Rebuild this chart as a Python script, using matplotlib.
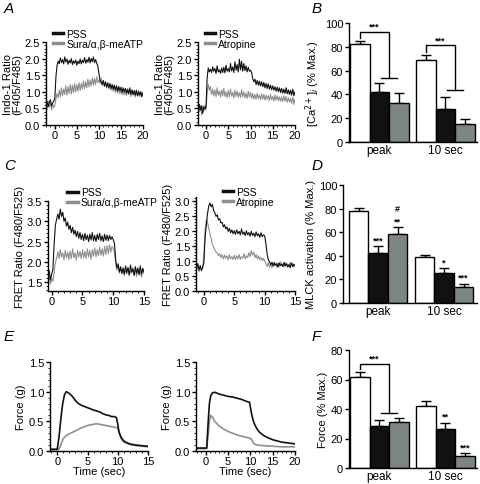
import numpy as np
import matplotlib
matplotlib.use('Agg')
import matplotlib.pyplot as plt
from matplotlib.ticker import MultipleLocator, FormatStrFormatter

plt.rcParams['font.family'] = ['Liberation Sans', 'DejaVu Sans']
plt.rcParams['font.size'] = 8
plt.rcParams['axes.linewidth'] = 1.0

BLACK = '#111111'
GRAY_LINE = '#8e9090'
GRAY_BAR = '#7c8686'

# ---------------- dados: traços Indo-1 (A), 0.25 s entre amostras, -2 a 20 s
indo_pss_sura = [0.62, 0.71, 0.55, 0.68, 0.76, 0.58, 0.66, 0.72,
                 0.80, 1.45, 1.78, 1.92,
                 1.85, 2.02, 1.88, 1.97, 1.84, 2.05, 1.90, 1.98, 1.83, 1.95, 1.87, 2.00,
                 1.82, 1.93, 1.86, 1.96, 1.80, 1.92, 1.85, 1.99, 1.84, 1.95, 1.88, 2.03,
                 1.86, 1.97, 1.89, 2.04, 1.87, 2.00, 1.91, 2.05, 1.88, 1.97, 1.86, 1.78,
                 1.55, 1.35, 1.30, 1.22, 1.34, 1.18, 1.30, 1.15, 1.27, 1.13, 1.25, 1.10,
                 1.22, 1.08, 1.20, 1.06, 1.18, 1.02, 1.16, 1.04, 1.14, 0.98, 1.12, 1.00,
                 1.10, 0.96, 1.08, 0.95, 1.12, 0.93, 1.06, 0.92, 1.04, 0.90, 1.05, 0.88,
                 1.02, 0.90, 1.00, 0.86, 0.98]
indo_sura = [0.58, 0.48, 0.72, 0.55, 0.66, 0.45, 0.62, 0.52,
             0.60, 0.78, 0.95, 0.82,
             1.05, 0.85, 1.12, 0.88, 1.08, 0.92, 1.18, 0.90, 1.15, 0.95, 1.22, 0.93,
             1.20, 0.98, 1.25, 1.00, 1.22, 1.02, 1.28, 1.04, 1.25, 1.08, 1.32, 1.10,
             1.30, 1.12, 1.38, 1.15, 1.35, 1.18, 1.42, 1.20, 1.40, 1.22, 1.45, 1.28,
             1.35, 1.25, 1.42, 1.20, 1.32, 1.15, 1.28, 1.12, 1.25, 1.08, 1.22, 1.05,
             1.18, 1.02, 1.15, 0.98, 1.14, 0.96, 1.10, 0.94, 1.08, 0.92, 1.05, 0.90,
             1.06, 0.88, 1.04, 0.92, 1.02, 0.86, 1.00, 0.90, 0.98, 0.84, 1.02, 0.88,
             0.96, 0.85, 1.00, 0.84, 0.92]
indo_pss_atro = [0.52, 0.38, 0.62, 0.45, 0.58, 0.35, 0.55, 0.48,
                 0.55, 1.40, 1.72, 1.60,
                 1.68, 1.58, 1.75, 1.62, 1.70, 1.55, 1.78, 1.60, 1.66, 1.56, 1.72, 1.58,
                 1.74, 1.57, 1.80, 1.62, 1.70, 1.60, 1.85, 1.63, 1.75, 1.58, 1.90, 1.65,
                 1.82, 1.60, 1.98, 1.66, 1.92, 1.62, 1.85, 1.64, 1.78, 1.60, 1.74, 1.62,
                 1.65, 1.58, 1.40, 1.30, 1.38, 1.22, 1.34, 1.20, 1.32, 1.18, 1.30, 1.15,
                 1.28, 1.12, 1.25, 1.10, 1.24, 1.08, 1.20, 1.06, 1.18, 1.05, 1.15, 1.02,
                 1.14, 1.00, 1.12, 0.98, 1.10, 0.96, 1.08, 0.95, 1.12, 0.94, 1.06, 0.92,
                 1.05, 0.90, 1.08, 0.88, 1.00]
indo_atro = [0.48, 0.62, 0.40, 0.58, 0.30, 0.55, 0.42, 0.60,
             0.45, 0.95, 1.22, 1.05,
             1.15, 0.92, 1.08, 0.88, 1.05, 0.85, 1.12, 0.90, 1.02, 0.84, 1.06, 0.88,
             1.10, 0.86, 1.00, 0.82, 1.04, 0.85, 1.08, 0.87, 0.98, 0.82, 1.05, 0.86,
             1.02, 0.84, 0.98, 0.83, 1.06, 0.85, 1.00, 0.82, 0.96, 0.80, 1.02, 0.84,
             0.98, 0.80, 0.95, 0.78, 0.92, 0.78, 0.95, 0.80, 0.90, 0.76, 0.94, 0.78,
             0.92, 0.75, 0.90, 0.78, 0.88, 0.74, 0.92, 0.76, 0.86, 0.72, 0.90, 0.75,
             0.88, 0.73, 0.85, 0.72, 0.84, 0.70, 0.88, 0.72, 0.86, 0.68, 0.82, 0.70,
             0.80, 0.65, 0.84, 0.62, 0.78]

# ---------------- dados: traços FRET (C), 0.2 s entre amostras
fret_pss_sura = [1.62, 1.78, 1.55,
                 1.70, 1.82, 2.45, 2.90, 3.05,
                 3.18, 3.05, 3.30, 3.12, 3.22, 3.00, 3.08, 2.88, 2.98, 2.80,
                 2.90, 2.72, 2.85, 2.68, 2.78, 2.62, 2.75, 2.58, 2.72, 2.55,
                 2.68, 2.52, 2.70, 2.55, 2.66, 2.50, 2.68, 2.54, 2.72, 2.52,
                 2.65, 2.50, 2.68, 2.55, 2.70, 2.52, 2.64, 2.50, 2.68, 2.53,
                 2.66, 2.52, 2.65, 2.55, 2.62,
                 2.55, 2.45, 2.05, 1.85, 1.95, 1.75, 1.88, 1.72, 1.85, 1.70, 1.90, 1.74,
                 1.86, 1.68, 1.92, 1.75, 1.82, 1.66, 1.88, 1.72, 1.85, 1.68, 1.90, 1.70,
                 1.84, 1.75]
fret_sura = [1.50, 1.66, 1.45,
             1.58, 1.52, 1.75, 1.98, 2.10,
             2.25, 2.08, 2.30, 2.12, 2.22, 2.05, 2.28, 2.10, 2.24, 2.06,
             2.26, 2.08, 2.32, 2.10, 2.22, 2.04, 2.28, 2.12, 2.25, 2.08,
             2.30, 2.10, 2.26, 2.08, 2.32, 2.12, 2.28, 2.06, 2.30, 2.14,
             2.34, 2.12, 2.30, 2.15, 2.36, 2.16, 2.32, 2.14, 2.38, 2.18,
             2.40, 2.20, 2.42, 2.24, 2.38,
             2.32, 2.25, 1.95, 1.80, 1.88, 1.72, 1.85, 1.70, 1.82, 1.66, 1.80, 1.70,
             1.84, 1.65, 1.78, 1.72, 1.86, 1.68, 1.80, 1.64, 1.82, 1.70, 1.76, 1.62,
             1.80, 1.72]
fret_pss_atro = [0.78, 0.92, 0.70, 0.85, 0.68, 0.80,
                 0.95, 1.80, 2.20, 2.60, 2.85,
                 2.95, 2.82, 2.90, 2.70, 2.62, 2.50, 2.55, 2.38, 2.42, 2.28,
                 2.30, 2.15, 2.22, 2.08, 2.15, 2.00, 2.10, 1.95, 2.05, 1.92,
                 2.02, 1.90, 2.05, 1.92, 2.00, 1.88, 2.08, 1.90, 1.98, 1.86,
                 2.02, 1.88, 1.96, 1.84, 2.00, 1.86, 1.94, 1.82, 1.98, 1.85,
                 1.92, 1.80, 1.95, 1.82, 1.88,
                 1.85, 1.60, 1.25, 1.05, 0.98, 0.88, 0.96, 0.84, 0.95, 0.86, 0.92, 0.80,
                 0.94, 0.85, 0.90, 0.82, 0.96, 0.84, 0.92, 0.80, 0.88, 0.78, 0.94, 0.82,
                 0.90, 0.85]
fret_atro = [0.72, 0.88, 0.65, 0.82, 0.70, 0.78,
             1.20, 2.05, 2.40, 2.30, 2.10,
             1.92, 1.75, 1.55, 1.48, 1.38, 1.30, 1.28, 1.18, 1.25, 1.12,
             1.22, 1.08, 1.20, 1.10, 1.18, 1.05, 1.22, 1.08, 1.15, 1.06,
             1.20, 1.05, 1.18, 1.08, 1.22, 1.06, 1.15, 1.10, 1.25, 1.08,
             1.18, 1.12, 1.28, 1.15, 1.35, 1.20, 1.30, 1.12, 1.22, 1.08,
             1.18, 1.05, 1.12, 1.02, 1.10,
             1.00, 0.92, 0.82, 0.95, 0.80, 0.92, 0.78, 0.96, 0.84, 0.90, 0.80, 0.94,
             0.82, 0.98, 0.85, 0.92, 0.80, 0.95, 0.84, 0.90, 0.82, 0.96, 0.85, 0.92,
             0.80, 0.88]

# ---------------- dados: força (E)
t_force_pss_sura = [-1.2, 0.0, 0.3, 0.6, 0.9, 1.2, 1.5, 2.0, 2.5, 3.0, 3.5, 4.0, 5.0, 6.0, 7.0,
                    7.5, 8.0, 8.5, 9.0, 9.5, 9.8, 10.0, 10.2, 10.5, 11.0, 11.5, 12.0, 13.0, 14.0, 15.0]
force_pss_sura = [0.03, 0.03, 0.25, 0.55, 0.80, 0.95, 1.00, 0.97, 0.92, 0.85, 0.80, 0.77, 0.73, 0.69, 0.66,
                  0.63, 0.61, 0.60, 0.58, 0.58, 0.56, 0.45, 0.32, 0.24, 0.17, 0.14, 0.12, 0.10, 0.09, 0.08]
t_force_sura = [-1.2, 0.2, 0.5, 0.8, 1.0, 1.5, 2.0, 3.0, 4.0, 5.0, 6.0, 6.5, 7.0, 8.0, 9.0, 10.0,
                10.3, 10.6, 11.0, 12.0, 13.0, 14.0, 15.0]
force_sura = [0.02, 0.02, 0.08, 0.16, 0.21, 0.26, 0.29, 0.34, 0.39, 0.43, 0.45, 0.46, 0.45, 0.43, 0.41, 0.39,
              0.30, 0.20, 0.15, 0.11, 0.09, 0.08, 0.07]
t_force_pss_atro = [-2.2, 0.2, 0.5, 0.8, 1.1, 1.5, 2.0, 3.0, 4.0, 5.0, 6.0, 7.0, 8.0, 9.0, 9.8, 10.2,
                    10.6, 11.0, 11.5, 12.0, 13.0, 14.0, 15.0, 16.0, 17.0, 18.0, 19.0, 20.0]
force_pss_atro = [0.05, 0.05, 0.45, 0.80, 0.93, 0.98, 0.99, 0.96, 0.94, 0.92, 0.91, 0.89, 0.87, 0.84, 0.82, 0.65,
                  0.52, 0.44, 0.37, 0.32, 0.26, 0.22, 0.19, 0.17, 0.15, 0.14, 0.13, 0.12]
t_force_atro = [-2.2, 0.2, 0.5, 0.8, 1.1, 1.4, 2.0, 3.0, 4.0, 5.0, 6.0, 7.0, 8.0, 9.0, 9.8, 10.3,
                10.8, 11.5, 13.0, 15.0, 17.0, 20.0]
force_atro = [0.04, 0.04, 0.25, 0.50, 0.60, 0.58, 0.50, 0.42, 0.37, 0.33, 0.30, 0.27, 0.25, 0.23, 0.22, 0.19,
              0.12, 0.10, 0.09, 0.08, 0.07, 0.07]

# ---------------- dados: barras (controle, Sura/meATP, atropina) para pico e 10 s
grupos = ['peak', '10 sec']
ca_media = [[82, 42, 33], [69, 28, 15]]
ca_erro = [[3, 8, 8.5], [4.5, 10, 4.5]]
mlck_media = [[78, 42, 58.5], [39.3, 25.3, 13.3]]
mlck_erro = [[2.5, 6, 6], [1.5, 4.2, 3]]
mlck_sig = [['', '***', '#\n**'], ['', '*', '***']]
forca_media = [[62, 28.8, 30.9], [42, 26.6, 8.3]]
forca_erro = [[3, 4, 3.3], [3.6, 3.8, 1.6]]
forca_sig = [['', '', ''], ['', '**', '***']]

fig = plt.figure(figsize=(4.8, 4.85), dpi=100)
W, H = 480.0, 485.0


def eixo(l, t, r, b):
    return fig.add_axes([l / W, 1 - b / H, (r - l) / W, (b - t) / H])


def estilo(ax):
    for s in ['top', 'right']:
        ax.spines[s].set_visible(False)
    ax.tick_params(which='major', direction='out', length=3, width=1, pad=1.2, labelsize=8)
    ax.tick_params(which='minor', direction='out', length=1.5, width=0.6)
    ax.tick_params(axis='x', which='major', pad=0.5)


def tracos(ax, t0, t1, preto, cinza, nomes, xlim, ylim, ystep, xticks, ylabel, leg_pos):
    tp = np.linspace(t0, t1, len(preto))
    tc = np.linspace(t0, t1, len(cinza))
    ax.plot(tc, cinza, color=GRAY_LINE, lw=0.8, label=nomes[1], zorder=2)
    ax.plot(tp, preto, color=BLACK, lw=0.8, label=nomes[0], zorder=3)
    ax.set_xlim(*xlim)
    ax.set_ylim(*ylim)
    ax.set_xticks(xticks)
    ax.yaxis.set_major_locator(MultipleLocator(ystep))
    ax.yaxis.set_major_formatter(FormatStrFormatter('%.1f'))
    ax.xaxis.set_minor_locator(MultipleLocator(1))
    ax.yaxis.set_minor_locator(MultipleLocator(0.1))
    ax.set_ylabel(ylabel, labelpad=1.5, linespacing=0.95, fontsize=8)
    estilo(ax)
    h, l = ax.get_legend_handles_labels()
    leg = ax.legend(h[::-1], l[::-1], loc='upper left', bbox_to_anchor=leg_pos, frameon=False,
                    handlelength=1.0, handletextpad=0.3, labelspacing=0.0, borderpad=0,
                    borderaxespad=0, fontsize=7.5)
    for ln in leg.get_lines():
        ln.set_linewidth(2.5)


# A
ax = eixo(46, 43, 143, 126)
tracos(ax, -2, 20, indo_pss_sura, indo_sura, ['PSS', 'Sura/α,β-meATP'],
       (-2, 20), (0, 2.5), 0.5, [0, 5, 10, 15, 20], 'Indo-1 Ratio\n(F405/F485)', (0.07, 1.16))
ax = eixo(198, 43, 295, 126)
tracos(ax, -2, 20, indo_pss_atro, indo_atro, ['PSS', 'Atropine'],
       (-1.8, 20), (0, 2.5), 0.5, [0, 5, 10, 15, 20], 'Indo-1 Ratio\n(F405/F485)', (0.07, 1.16))

# C
ax = eixo(48, 202, 144, 292)
tracos(ax, -0.6, 15, fret_pss_sura, fret_sura, ['PSS', 'Sura/α,β-meATP'],
       (-0.6, 15), (1.28, 3.5), 0.5, [0, 5, 10, 15], 'FRET Ratio (F480/F525)', (0.2, 1.15))
ax = eixo(196, 198, 295, 292)
tracos(ax, -1.2, 15, fret_pss_atro, fret_atro, ['PSS', 'Atropine'],
       (-1.3, 15), (0, 3.15), 0.5, [0, 5, 10, 15], 'FRET Ratio (F480/F525)', (0.27, 1.11))

# E
for (l, r, tp, fp, tc, fc, xl, xt) in [
        (50, 148, t_force_pss_sura, force_pss_sura, t_force_sura, force_sura, (-1.2, 15), [0, 5, 10, 15]),
        (196, 295, t_force_pss_atro, force_pss_atro, t_force_atro, force_atro, (-2.2, 20), [0, 5, 10, 15, 20])]:
    ax = eixo(l, 363, r, 452)
    ax.plot(tc, fc, color=GRAY_LINE, lw=1.2)
    ax.plot(tp, fp, color=BLACK, lw=1.2)
    ax.set_xlim(*xl)
    ax.set_ylim(0, 1.5)
    ax.set_xticks(xt)
    ax.yaxis.set_major_locator(MultipleLocator(0.5))
    ax.yaxis.set_major_formatter(FormatStrFormatter('%.1f'))
    ax.xaxis.set_minor_locator(MultipleLocator(1))
    ax.yaxis.set_minor_locator(MultipleLocator(0.1))
    ax.set_ylabel('Force (g)', labelpad=2)
    ax.set_xlabel('Time (sec)', labelpad=0)
    estilo(ax)

# barras
pos = [[0, 1, 2], [3.38, 4.38, 5.38]]
cores = ['white', BLACK, GRAY_BAR]


def barras(ax, media, erro, ymax, ystep, ylabel, xlim, sig=None, colchetes=()):
    for g in range(2):
        ax.bar(pos[g], media[g], width=1.0, color=cores, edgecolor='black', linewidth=1, zorder=2)
        ax.errorbar(pos[g], media[g], yerr=[[0, 0, 0], erro[g]], fmt='none', ecolor='black',
                    elinewidth=1, capsize=3.5, capthick=1, zorder=1)
        if sig:
            for i in range(3):
                if sig[g][i]:
                    ax.text(pos[g][i], media[g][i] + erro[g][i] + 1.5, sig[g][i], ha='center', va='bottom',
                            fontsize=6.5, fontweight='bold', linespacing=1.4)
    for (g, topo, baixo) in colchetes:
        x0 = pos[g][0]
        x1 = (pos[g][1] + pos[g][2]) / 2
        y0 = media[g][0] + erro[g][0] + 2
        ax.plot([x0, x0, x1, x1], [y0, topo, topo, baixo], color='black', lw=1)
        ax.plot([x1 - 0.42, x1 + 0.42], [baixo, baixo], color='black', lw=1)
        ax.text((x0 + x1) / 2, topo + 1, '***', ha='center', va='bottom', fontsize=6.5, fontweight='bold')
    ax.set_xlim(*xlim)
    ax.set_ylim(0, ymax)
    ax.yaxis.set_major_locator(MultipleLocator(ystep))
    ax.set_xticks([pos[0][1], pos[1][1]])
    ax.set_xticklabels(grupos)
    ax.set_ylabel(ylabel, labelpad=2)
    estilo(ax)
    ax.tick_params(axis='x', length=0, pad=1.5, labelsize=8.5)


ax = eixo(349, 24, 477, 143)
barras(ax, ca_media, ca_erro, 100, 20, r'[Ca$^{2+}$]$_i$ (% Max.)', (-0.55, 6.0),
       colchetes=[(0, 92.4, 53.8), (1, 81.1, 44)])
ax = eixo(343, 186, 477, 304)
barras(ax, mlck_media, mlck_erro, 100, 20, 'MLCK activation (% Max.)', (-0.8, 6.07), sig=mlck_sig)
ax = eixo(349, 351, 477, 469)
barras(ax, forca_media, forca_erro, 80, 20, 'Force (% Max.)', (-0.55, 6.0), sig=forca_sig,
       colchetes=[(0, 70.3, 37.2)])

# letras dos painéis
for letra, x, y in [('A', 4, 9), ('B', 312, 9), ('C', 4, 166), ('D', 312, 166), ('E', 4, 337), ('F', 312, 337)]:
    fig.text(x / W, 1 - y / H, letra, fontsize=11, fontstyle='italic', va='center', ha='left')

fig.savefig('out.png', dpi=100)
